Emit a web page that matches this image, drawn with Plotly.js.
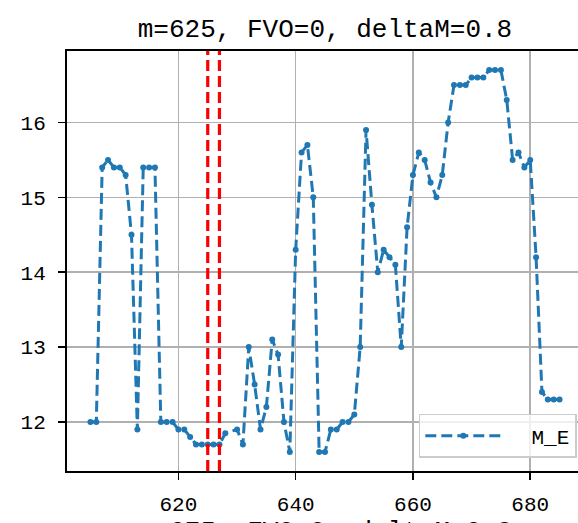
<!DOCTYPE html>
<html>
<head>
<meta charset="utf-8">
<script src="https://cdn.plot.ly/plotly-3.0.1.min.js"></script>
<style>
html, body { margin: 0; padding: 0; overflow: hidden; background: #fff; }
#chart { width: 600px; height: 523px; }
</style>
</head>
<body>
<div id="chart"></div>
<script>
// Data
const xValues = [605,606,607,608,609,610,611,612,613,614,615,616,617,618,619,620,621,622,623,624,625,626,627,628,
  630,631,632,633,634,635,636,637,638,639,640,641,642,643,644,645,646,647,648,649,650,651,652,653,654,655,656,657,658,659,
  660,661,662,663,664,665,666,667,668,669,670,671,672,673,674,675,676,677,678,679,680,681,682,683,684,685];
const meValues = [12.0,12.0,15.4,15.5,15.4,15.4,15.3,14.5,11.9,15.4,15.4,15.4,12.0,12.0,12.0,11.9,11.9,11.8,11.7,11.7,11.7,11.7,11.7,11.85,
  11.9,11.7,13.0,12.5,11.9,12.2,13.1,12.9,12.0,11.6,14.3,15.6,15.7,15.0,11.6,11.6,11.9,11.9,12.0,12.0,12.1,13.0,15.9,14.9,14.0,14.3,14.2,14.1,13.0,14.6,
  15.3,15.6,15.5,15.2,15.0,15.3,16.0,16.5,16.5,16.5,16.6,16.6,16.6,16.7,16.7,16.7,16.3,15.5,15.6,15.4,15.5,14.2,12.4,12.3,12.3,12.3];
const markerLines = [625, 627];
const seriesName = 'M_E';
const titleText = 'm=625, FVO=0, deltaM=0.8';
const nextTitleText = 'm=675, FVO=0, deltaM=0.8';
const xTicks = [620, 640, 660, 680];
const yTicks = [12, 13, 14, 15, 16];

const FONT = 'Liberation Mono, DejaVu Sans Mono, monospace';
const BLUE = '#1f77b4';

const trace = {
  x: xValues, y: meValues, type: 'scatter', mode: 'lines+markers',
  name: '\u00a0\u00a0' + seriesName,
  line: { color: BLUE, width: 3, dash: '11px,5px' },
  marker: { color: BLUE, size: 6 }
};

const shapes = markerLines.map(v => ({
  type: 'line', xref: 'x', yref: 'paper', x0: v, x1: v, y0: 0, y1: 1,
  line: { color: '#ff0000', width: 3.2, dash: '11px,5px' }, layer: 'above'
}));

const axisCommon = {
  showline: true, linecolor: '#000', linewidth: 2, mirror: true,
  ticks: 'outside', ticklen: 7, tickwidth: 1.6, tickcolor: '#000',
  showgrid: true, gridcolor: '#b0b0b0', gridwidth: 1.6, zeroline: false,
  tickfont: { family: FONT, size: 21, color: '#000' }
};

const layout = {
  width: 600, height: 523,
  margin: { l: 67, r: 17, t: 51, b: 52 },
  paper_bgcolor: '#fff', plot_bgcolor: '#fff',
  title: { text: titleText, font: { family: FONT, size: 26, color: '#000' },
           x: 0.5, xref: 'paper', xanchor: 'center', y: 1 - 28/523, yref: 'container', yanchor: 'middle' },
  xaxis: Object.assign({}, axisCommon, { range: [601, 689], tickmode: 'array', tickvals: xTicks, ticklabelstandoff: 6 }),
  yaxis: Object.assign({}, axisCommon, { range: [11.345, 16.955], tickmode: 'array', tickvals: yTicks, ticklabelstandoff: 8 }),
  shapes: shapes,
  showlegend: true,
  legend: {
    x: 0.988, xanchor: 'right', y: 0.031, yanchor: 'bottom',
    itemwidth: 76,
    bgcolor: 'rgba(255,255,255,0.8)', bordercolor: '#cccccc', borderwidth: 1.5,
    font: { family: FONT, size: 21, color: '#000' }
  },
  annotations: [{
    text: nextTitleText, xref: 'paper', yref: 'paper', x: 0.5, y: (471 - 532) / 420,
    xanchor: 'center', yanchor: 'middle', showarrow: false,
    font: { family: FONT, size: 26, color: '#000' }
  }]
};

Plotly.newPlot('chart', [trace], layout, { staticPlot: true, displayModeBar: false });
</script>
</body>
</html>
